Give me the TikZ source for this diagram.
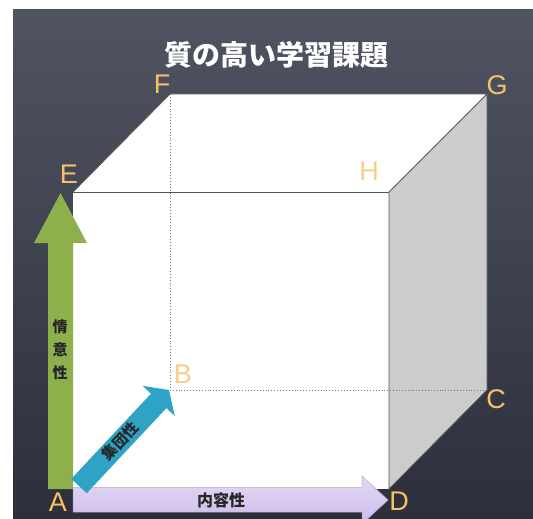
\documentclass[tikz,border=0pt]{standalone}
\usepackage{fontspec}
\setmainfont{Liberation Sans}
\newfontfamily\jpfont{Noto Sans CJK JP}
\definecolor{bgtop}{HTML}{505462}
\definecolor{bgbot}{HTML}{2D2F3B}
\definecolor{sidegray}{HTML}{CCCCCC}
\definecolor{edgegray}{HTML}{555555}
\definecolor{dotgray}{HTML}{7A7A7A}
\definecolor{lblcol}{HTML}{F3C463}
\definecolor{lblpale}{HTML}{F8CE86}
\definecolor{greenarr}{HTML}{8DB04D}
\definecolor{bluearr}{HTML}{2EA3C6}
\definecolor{purptop}{HTML}{E3D8F4}
\definecolor{purpbot}{HTML}{CDBBEA}
\definecolor{purpedge}{HTML}{B4A2D2}
\begin{document}
\begin{tikzpicture}[x=1pt,y=-1pt,
  edge/.style={draw=edgegray,line width=0.8pt},
  hidden/.style={draw=dotgray,line width=0.9pt,dotted},
  vlabel/.style={inner sep=0pt,text=lblcol,font=\fontsize{27}{27}\selectfont},
  vlabelpale/.style={vlabel,text=lblpale},
  arrtext/.style={inner sep=0pt,text=black!85,font=\jpfont\bfseries\fontsize{15}{15}\selectfont}]
\useasboundingbox (0,0) rectangle (533,519);
\clip (0,0) rectangle (533,519);
\fill[white] (0,0) rectangle (533,519);
\shade[top color=bgtop,bottom color=bgbot] (13,10) rectangle (533,519);
% title
\node[inner sep=0pt,text=white,font=\jpfont\bfseries\fontsize{28}{28}\selectfont] (title) at (276,55) {質の高い学習課題};
% cube vertices
\coordinate (A) at (73,489);
\coordinate (B) at (170,390);
\coordinate (C) at (487,390);
\coordinate (D) at (389,489);
\coordinate (E) at (73,192);
\coordinate (F) at (170,94);
\coordinate (G) at (487,94);
\coordinate (H) at (389,192);
% faces
\fill[white] (E) -- (F) -- (G) -- (H) -- cycle;
\fill[white] (A) rectangle (H);
\fill[sidegray] (H) -- (G) -- (C) -- (D) -- cycle;
% hidden edges
\draw[hidden] (F) -- (B) -- (C);
% visible edges
\draw[edge] (E) -- (F) -- (G) -- (C) -- (D) -- (H) -- (G);
\draw[edge] (E) -- (H);
% green arrow (vertical)
\fill[greenarr] (48,489) -- (48,243) -- (34,243) -- (60.5,193) -- (87,243) -- (73,243) -- (73,489) -- cycle;
\node[arrtext] (t1) at (60,327) {情};
\node[arrtext] (t2) at (60,350) {意};
\node[arrtext] (t3) at (60,373) {性};
% purple arrow (horizontal)
\shade[top color=purptop,bottom color=purpbot,draw=purpedge,line width=0.5pt]
  (73,487.5) -- (362,487.5) -- (362,476) -- (388,500) -- (362,524) -- (362,512) -- (73,512) -- cycle;
\node[arrtext,font=\jpfont\bfseries\fontsize{16}{16}\selectfont] (t4) at (221,500) {内容性};
% blue arrow (diagonal)
\coordinate (s1) at (71.3,478.8);
\coordinate (s2) at (86.7,493.2);
\coordinate (e1) at (151.0,393.7);
\coordinate (e2) at (166.4,408.1);
\coordinate (b1) at (142.7,385.9);
\coordinate (b2) at (174.7,416.0);
\coordinate (tip) at (169,390);
\fill[bluearr] (s1) -- (e1) -- (b1) -- (tip) -- (b2) -- (e2) -- (s2) -- cycle;
\node[arrtext,rotate=46.8] (t5) at (120,441) {集団性};
% vertex labels
\node[vlabel] (lA) at (58,502) {A};
\node[vlabelpale] (lB) at (183,374) {B};
\node[vlabel] (lC) at (496,399) {C};
\node[vlabel] (lD) at (399,501) {D};
\node[vlabel] (lE) at (69,174) {E};
\node[vlabel] (lF) at (162,84) {F};
\node[vlabel] (lG) at (497,85) {G};
\node[vlabelpale] (lH) at (369,171) {H};
\end{tikzpicture}
\end{document}
